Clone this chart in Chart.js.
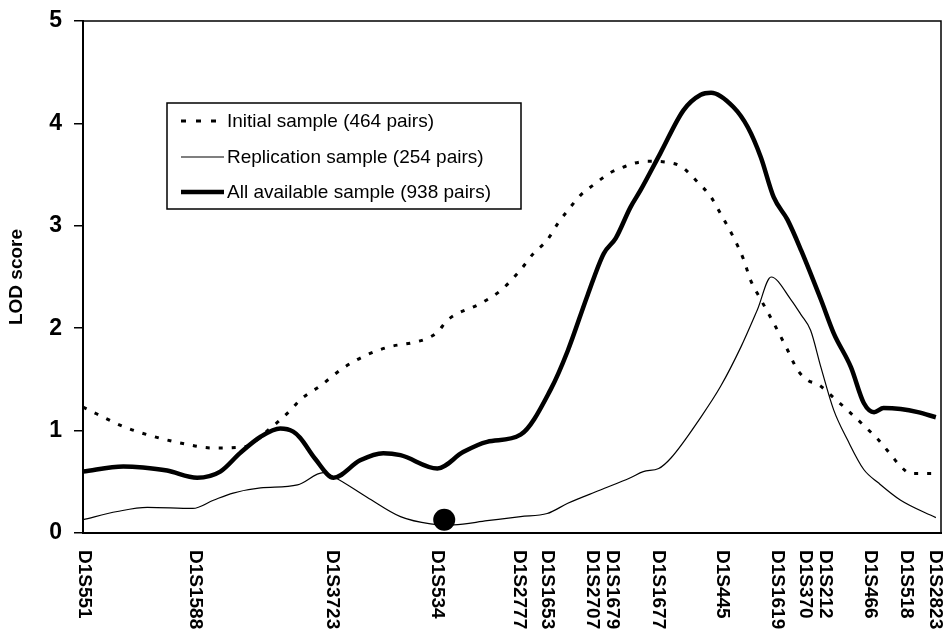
<!DOCTYPE html>
<html>
<head>
<meta charset="utf-8">
<script src="https://cdn.jsdelivr.net/npm/chart.js@4"></script>
<style>
  html, body { margin: 0; padding: 0; background: #fff; }
  canvas { display: block; }
</style>
</head>
<body>
<canvas id="c" width="943" height="630"></canvas>
<script>
// ---- Data ----
const markerNames = [["D1S551"], ["D1S1588"], ["D1S3723"], ["D1S534"], ["D1S2777"], ["D1S1653"],
  ["D1S1679", "D1S2707"], ["D1S1677"], ["D1S445"], ["D1S1619"], ["D1S212", "D1S370"],
  ["D1S466"], ["D1S518"], ["D1S2823"]];
const markerPos = [0.2, 13.1, 29.1, 41.3, 50.9, 54.1, 60.5, 67.0, 74.5, 80.9, 85.4, 91.7, 96.0, 99.3];
const yTicks = [0, 1, 2, 3, 4, 5];

const seriesNames = ["Initial sample (464 pairs)", "Replication sample (254 pairs)", "All available sample (938 pairs)"];

const initialX = [0, 4.7, 7.5, 11.3, 15.2, 18.7, 21.8, 24.2, 25.3, 27.7, 30.3, 33.1, 35.8, 38.5, 40.1, 41.3, 42.5, 46.3, 48.7, 51.0, 52.5, 54.1, 55.4, 56.5, 58.0, 59.5, 61.5, 62.9, 64.2, 65.8, 68.1, 69.7, 71.6, 73.2, 74.3, 75.8, 77.0, 77.8, 79.0, 80.5, 82.1, 83.3, 84.5, 85.7, 87.5, 89.1, 91.0, 92.7, 94.2, 95.3, 96.5, 99.4];
const initialY = [1.23, 1.04, 0.96, 0.88, 0.83, 0.84, 1.02, 1.20, 1.30, 1.44, 1.61, 1.74, 1.82, 1.86, 1.90, 1.96, 2.08, 2.24, 2.37, 2.57, 2.73, 2.86, 3.03, 3.15, 3.30, 3.40, 3.52, 3.57, 3.61, 3.63, 3.62, 3.58, 3.43, 3.28, 3.12, 2.89, 2.67, 2.47, 2.28, 2.05, 1.79, 1.59, 1.49, 1.45, 1.32, 1.20, 1.05, 0.91, 0.76, 0.65, 0.58, 0.58];

const replicationX = [0, 4.0, 7.5, 12.8, 15.2, 17.5, 20.7, 25.0, 28.0, 29.2, 33.1, 37.0, 40.5, 43.2, 47.1, 51.0, 54.1, 56.5, 60.3, 63.8, 65.3, 67.1, 68.5, 72.0, 74.3, 76.7, 78.6, 80.2, 82.5, 83.7, 84.8, 86.0, 87.5, 89.1, 91.0, 92.7, 95.3, 99.4];
const replicationY = [0.13, 0.21, 0.25, 0.24, 0.32, 0.39, 0.44, 0.47, 0.59, 0.55, 0.35, 0.16, 0.09, 0.08, 0.12, 0.16, 0.19, 0.29, 0.42, 0.54, 0.60, 0.63, 0.73, 1.13, 1.43, 1.82, 2.18, 2.50, 2.28, 2.13, 1.98, 1.62, 1.20, 0.91, 0.62, 0.49, 0.32, 0.15];

const allX = [0, 4.7, 7.0, 9.8, 13.3, 16.0, 18.3, 20.7, 23.0, 24.5, 25.3, 27.1, 29.2, 32.3, 35.0, 37.0, 41.3, 44.3, 47.1, 51.0, 54.5, 56.5, 58.8, 60.7, 62.1, 63.8, 65.0, 67.3, 70.0, 72.0, 73.2, 75.8, 77.5, 79.0, 80.5, 82.1, 83.7, 86.0, 87.5, 89.5, 91.0, 92.2, 93.3, 95.3, 97.3, 99.4];
const allY = [0.60, 0.65, 0.64, 0.61, 0.54, 0.60, 0.78, 0.94, 1.02, 0.99, 0.93, 0.72, 0.54, 0.71, 0.78, 0.76, 0.63, 0.79, 0.89, 0.96, 1.40, 1.78, 2.32, 2.73, 2.88, 3.18, 3.35, 3.71, 4.13, 4.28, 4.30, 4.16, 3.96, 3.67, 3.28, 3.06, 2.76, 2.28, 1.95, 1.62, 1.27, 1.18, 1.22, 1.21, 1.18, 1.13];

const dotX = [42.1];
const dotY = [0.13];

// ---- Build ----
const FONT = "'Liberation Sans', Arial, Helvetica, sans-serif";
Chart.defaults.font.family = FONT;
Chart.defaults.color = '#000';

function pts(xs, ys) { return xs.map((x, i) => ({ x: x, y: ys[i] })); }

const boxPlugin = {
  id: 'boxPlugin',
  afterDatasetsDraw(chart) {
    const { ctx, chartArea: a } = chart;
    ctx.save();
    ctx.strokeStyle = '#000';
    ctx.lineWidth = 1.5;
    ctx.beginPath();
    ctx.moveTo(a.left, a.top);
    ctx.lineTo(a.right, a.top);
    ctx.lineTo(a.right, a.bottom);
    ctx.stroke();
    ctx.restore();
  }
};

const xLabelPlugin = {
  id: 'xLabelPlugin',
  afterDraw(chart) {
    const { ctx } = chart;
    const xs = chart.scales.x;
    const a = chart.chartArea;
    ctx.save();
    ctx.fillStyle = '#000';
    ctx.font = 'bold 19px ' + FONT;
    ctx.textAlign = 'left';
    ctx.textBaseline = 'middle';
    markerPos.forEach((p, i) => {
      const px = xs.getPixelForValue(p);
      const lines = markerNames[i];
      ctx.save();
      ctx.translate(px, a.bottom + 17);
      ctx.rotate(Math.PI / 2);
      lines.forEach((t, j) => {
        const off = (j - (lines.length - 1) / 2) * 20;
        ctx.fillText(t, 0, off);
      });
      ctx.restore();
    });
    ctx.restore();
  }
};

const legendPlugin = {
  id: 'legendPlugin',
  afterDraw(chart) {
    const { ctx } = chart;
    const bx = 167, by = 103, bw = 354, bh = 106;
    ctx.save();
    ctx.fillStyle = '#fff';
    ctx.fillRect(bx, by, bw, bh);
    ctx.strokeStyle = '#000';
    ctx.lineWidth = 1.5;
    ctx.strokeRect(bx, by, bw, bh);
    ctx.font = '19px ' + FONT;
    ctx.textBaseline = 'middle';
    ctx.textAlign = 'left';
    const rowY = [121, 157, 192];
    for (let i = 0; i < 3; i++) {
      const ds = chart.data.datasets[i];
      ctx.save();
      ctx.strokeStyle = '#000';
      ctx.lineWidth = ds.borderWidth;
      ctx.setLineDash(i === 0 ? [5, 10] : []);
      ctx.beginPath();
      ctx.moveTo(181, rowY[i]);
      ctx.lineTo(224, rowY[i]);
      ctx.stroke();
      ctx.restore();
      ctx.fillStyle = '#000';
      ctx.fillText(ds.label, 227, rowY[i] + 1);
    }
    ctx.restore();
  }
};

new Chart(document.getElementById('c'), {
  type: 'line',
  data: {
    datasets: [
      { label: seriesNames[0], data: pts(initialX, initialY), borderColor: '#000', borderWidth: 3,
        borderDash: [4, 9], borderCapStyle: 'butt', pointRadius: 0, fill: false, cubicInterpolationMode: 'monotone' },
      { label: seriesNames[1], data: pts(replicationX, replicationY), borderColor: '#000', borderWidth: 1.2,
        pointRadius: 0, fill: false, cubicInterpolationMode: 'monotone' },
      { label: seriesNames[2], data: pts(allX, allY), borderColor: '#000', borderWidth: 4.5,
        pointRadius: 0, fill: false, cubicInterpolationMode: 'monotone' },
      { label: 'marker', data: pts(dotX, dotY), showLine: false, pointRadius: 11, pointBackgroundColor: '#000',
        pointBorderColor: '#000', pointBorderWidth: 0, borderWidth: 0 }
    ]
  },
  options: {
    responsive: false,
    animation: false,
    devicePixelRatio: 1,
    layout: { autoPadding: false, padding: { top: 21, bottom: 97, left: 0, right: 2 } },
    plugins: { legend: { display: false }, tooltip: { enabled: false } },
    scales: {
      x: {
        type: 'linear', min: 0, max: 100,
        ticks: { display: false },
        grid: { display: false },
        border: { display: true, color: '#000', width: 2 },
        afterFit(s) { s.height = 0; s.paddingLeft = 0; s.paddingRight = 0; }
      },
      y: {
        min: 0, max: 5,
        afterBuildTicks(s) { s.ticks = yTicks.map(v => ({ value: v })); },
        ticks: { padding: 12, font: { size: 23, weight: 'bold' }, color: '#000' },
        grid: { drawOnChartArea: false, drawTicks: true, tickLength: 9, color: '#000', lineWidth: 1.5 },
        border: { display: true, color: '#000', width: 2 },
        title: { display: true, text: 'LOD score', font: { size: 19, weight: 'bold' }, padding: { top: 5, bottom: 0 } },
        afterFit(s) { s.width = 83; s.paddingTop = 0; s.paddingBottom = 0; }
      }
    }
  },
  plugins: [boxPlugin, xLabelPlugin, legendPlugin]
});
</script>
</body>
</html>
